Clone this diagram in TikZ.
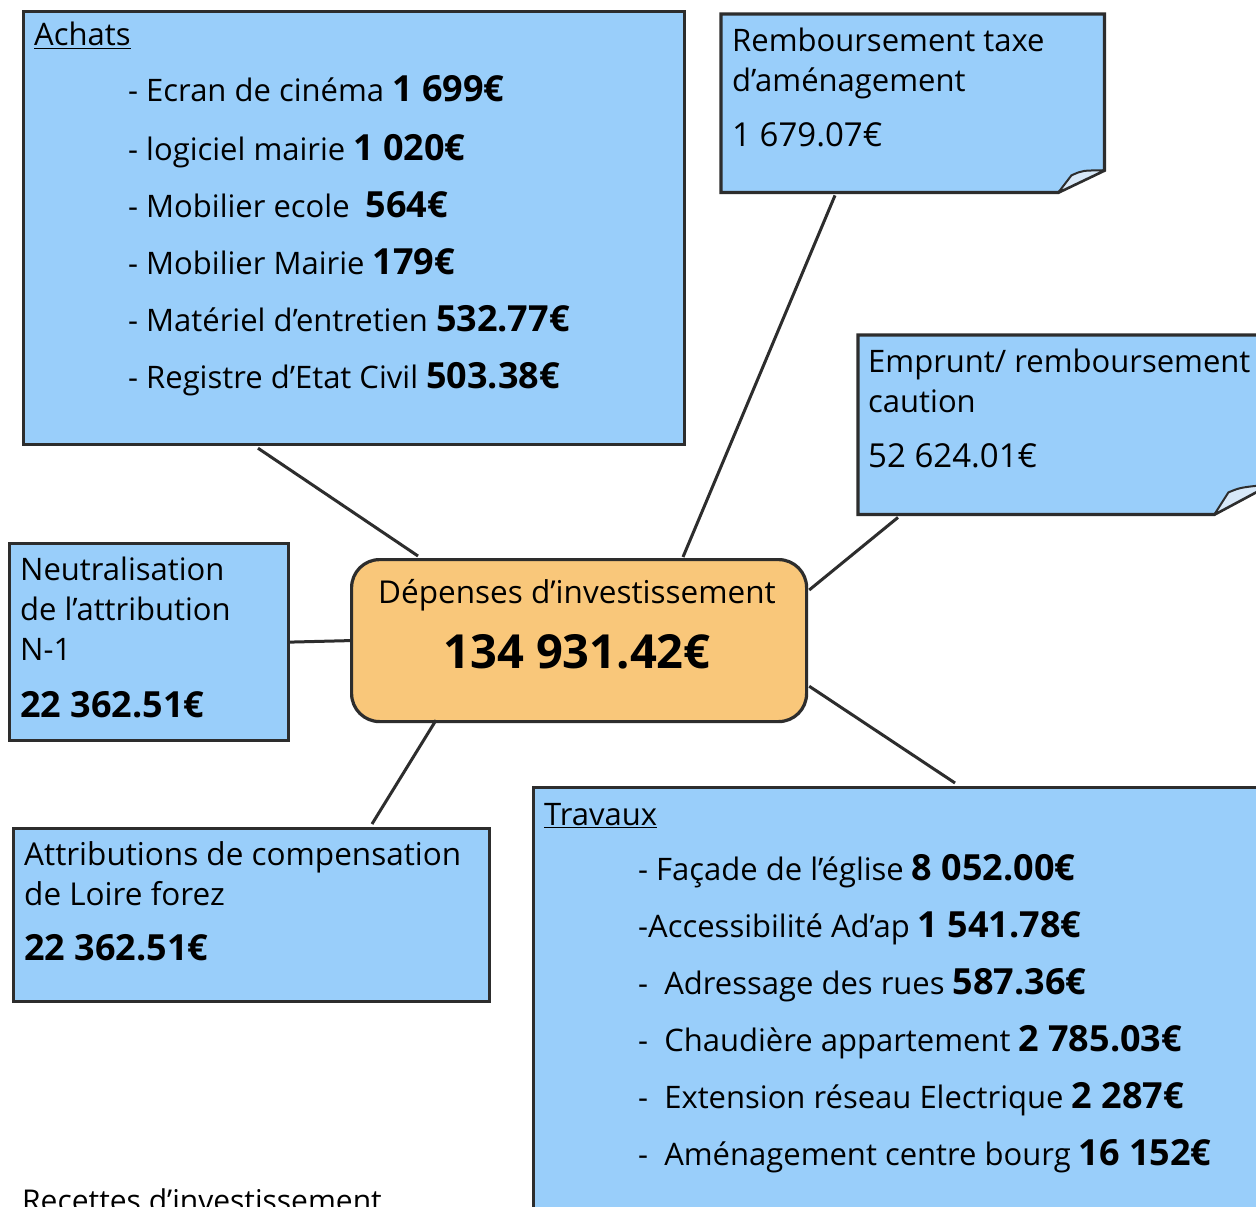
\documentclass[tikz,border=0pt]{standalone}
\usepackage{fontspec}
\setmainfont{Open Sans}
\usetikzlibrary{calc}
\definecolor{boxblue}{RGB}{153,206,250}
\definecolor{boxorange}{RGB}{249,199,122}
\definecolor{edgecol}{RGB}{45,45,45}
\definecolor{flapfill}{RGB}{215,232,248}
\newcommand\amt[1]{{\fontsize{36}{40}\selectfont\bfseries #1}}
\begin{document}
\begin{tikzpicture}[x=1pt,y=-1pt,
  bluebox/.style={draw=edgecol, line width=3.2pt, fill=boxblue, inner sep=0pt, anchor=north west},
  holder/.style={draw=none, inner sep=0pt, anchor=north west},
  boxline/.style={draw=edgecol, line width=3.2pt, fill=boxblue, line join=miter},
  flap/.style={draw=edgecol, line width=2pt, fill=flapfill, line join=round},
  txt/.style={anchor=base west, inner sep=0pt, font=\fontsize{31}{37}\selectfont},
  ctxt/.style={anchor=base, inner sep=0pt, font=\fontsize{31.5}{37}\selectfont},
  big/.style={anchor=base, inner sep=0pt, font=\fontsize{47}{54}\selectfont\bfseries},
  link/.style={draw=edgecol, line width=3pt}]
\useasboundingbox (0,0) rectangle (1256,1207);
\clip (0,0) rectangle (1256,1207);
\fill[white] (0,0) rectangle (1256,1207);

% boxes
\node[bluebox, minimum width=661pt, minimum height=433pt] (achats) at (22,10) {};
\node[holder, minimum width=383pt, minimum height=178pt] (remb) at (721,14) {};
\node[holder, minimum width=412pt, minimum height=179pt] (emp) at (858,335) {};
\node[bluebox, minimum width=279pt, minimum height=197pt] (neut) at (8,542) {};
\node[draw=edgecol, line width=3.2pt, fill=boxorange, rounded corners=28pt, inner sep=0pt,
      anchor=north west, minimum width=455pt, minimum height=162pt] (center) at (350,558) {};
\node[bluebox, minimum width=476pt, minimum height=173pt] (attr) at (12,827) {};
\node[bluebox, minimum width=740pt, minimum height=440pt] (trav) at (532,786) {};

% folded boxes
\draw[boxline] (remb.north west) -- (remb.north east) -- ($(remb.south east)+(0,-22)$)
   -- ($(remb.south east)+(-46,0)$) -- (remb.south west) -- cycle;
\draw[flap] ($(remb.south east)+(-46,0)$) -- ($(remb.south east)+(-33,-17)$)
   .. controls ($(remb.south east)+(-22,-22)$) .. ($(remb.south east)+(0,-22)$) -- cycle;
\draw[boxline] (emp.north west) -- (emp.north east) -- ($(emp.south east)+(0,-30)$)
   -- ($(emp.south east)+(-56,0)$) -- (emp.south west) -- cycle;
\draw[flap] ($(emp.south east)+(-56,0)$) -- ($(emp.south east)+(-42,-22)$)
   .. controls ($(emp.south east)+(-30,-27)$) .. ($(emp.south east)+(0,-30)$) -- cycle;

% connectors
\draw[link] ($(achats.south west)+(236,2)$) -- ($(center.north west)+(68,-2)$);
\draw[link] ($(remb.south west)+(114,3)$) -- ($(center.north west)+(333,-1)$);
\draw[link] ($(emp.south west)+(40,3)$) -- ($(center.north east)+(1,32)$);
\draw[link] (neut.east) -- (center.west);
\draw[link] ($(attr.north west)+(360,-3)$) -- ($(center.south west)+(86,-3)$);
\draw[link] ($(trav.north west)+(423,-3)$) -- ($(center.south east)+(1,-37)$);

% Achats text
\node[txt] (a0) at (34,46) {\underline{Achats}};
\node[txt] (a1) at (128,102) {- Ecran de cinéma \amt{1 699€}};
\node[txt] (a2) at (128,160) {- logiciel mairie \amt{1 020€}};
\node[txt] (a3) at (128,217) {- Mobilier ecole\ \ \amt{564€}};
\node[txt] (a4) at (128,274) {- Mobilier Mairie \amt{179€}};
\node[txt] (a5) at (128,331) {- Matériel d’entretien \amt{532.77€}};
\node[txt] (a6) at (128,388) {- Registre d’Etat Civil \amt{503.38€}};

% Remboursement
\node[txt] (r1) at (732,52) {Remboursement taxe};
\node[txt] (r2) at (732,92) {d’aménagement};
\node[txt, font=\fontsize{33}{38}\selectfont] (r3) at (732,146) {1 679.07€};

% Emprunt
\node[txt] (e1) at (868,372) {Emprunt/ remboursement};
\node[txt] (e2) at (868,412) {caution};
\node[txt, font=\fontsize{33}{38}\selectfont] (e3) at (868,467) {52 624.01€};

% Neutralisation
\node[txt] (n1) at (20,580) {Neutralisation};
\node[txt] (n2) at (20,620) {de l’attribution};
\node[txt] (n3) at (20,660) {N-1};
\node[txt] (n4) at (20,717) {\amt{22 362.51€}};

% Central
\node[ctxt] (c1) at (577,603) {Dépenses d’investissement};
\node[big] (c2) at (577,668) {134 931.42€};

% Attributions
\node[txt, font=\fontsize{31.5}{37}\selectfont] (t1) at (24,865) {Attributions de compensation};
\node[txt, font=\fontsize{31.5}{37}\selectfont] (t2) at (24,905) {de Loire forez};
\node[txt] (t3) at (24,960) {\amt{22 362.51€}};

% Travaux
\node[txt] (w0) at (544,825) {\underline{Travaux}};
\node[txt] (w1) at (638,880) {- Façade de l’église \amt{8 052.00€}};
\node[txt] (w2) at (638,937) {-Accessibilité Ad’ap \amt{1 541.78€}};
\node[txt] (w3) at (638,994) {-\ \ Adressage des rues \amt{587.36€}};
\node[txt] (w4) at (638,1051) {-\ \ Chaudière appartement \amt{2 785.03€}};
\node[txt] (w5) at (638,1108) {-\ \ Extension réseau Electrique \amt{2 287€}};
\node[txt] (w6) at (638,1165) {-\ \ Aménagement centre bourg \amt{16 152€}};

% Recettes
\node[txt, font=\fontsize{30}{36}\selectfont] (rec) at (22,1211) {Recettes d'investissement};
\end{tikzpicture}
\end{document}
